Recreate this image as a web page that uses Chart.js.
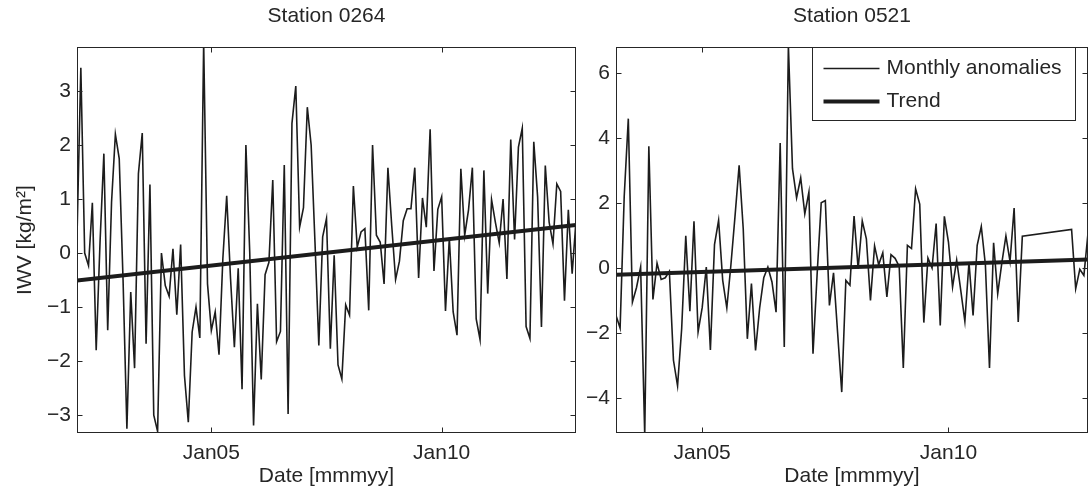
<!DOCTYPE html>
<html>
<head>
<meta charset="utf-8">
<script src="https://cdn.jsdelivr.net/npm/chart.js@4"></script>
<style>
  html, body { margin: 0; padding: 0; background: #fff; }
  #wrap { position: relative; width: 1089px; height: 493px; }
  canvas { position: absolute; top: 0; }
  #left { left: 0; }
  #right { left: 580px; }
</style>
</head>
<body>
<div id="wrap">
  <canvas id="left" width="580" height="493"></canvas>
  <canvas id="right" width="509" height="493"></canvas>
</div>
<script>
// Station 0264: monthly IWV anomalies, Feb 2002 .. Dec 2012
const leftStart = [2002, 2];
const leftValues = [
  0.3, 3.43, 0.0, -0.23, 0.93, -1.8, 0.2, 1.84, -1.43, 0.94,
  2.2, 1.75, -0.5, -3.25, -0.72, -2.13, 1.47, 2.22, -1.68, 1.27,
  -3.0, -3.3, 0.0, -0.6, -0.8, 0.08, -1.14, 0.16, -2.27, -3.13,
  -1.46, -1.0, -1.57, 3.9, -0.57, -1.43, -1.09, -1.88, -0.1, 1.06,
  -0.47, -1.74, -0.28, -2.52, 2.0, 0.02, -3.19, -0.94, -2.34, -0.4,
  -0.17, 1.35, -1.64, -1.45, 1.63, -2.98, 2.4, 3.09, 0.48, 0.84,
  2.7, 2.0, 0.2, -1.71, 0.3, 0.64, -1.77, -0.04, -2.07, -2.33,
  -0.96, -1.15, 1.24, 0.11, 0.39, 0.45, -1.06, 2.0, 0.33, 0.2,
  -0.57, 1.58, 0.5, -0.49, -0.15, 0.6, 0.82, 0.82, 1.58, -0.46,
  1.02, 0.48, 2.29, -0.33, 0.81, 1.04, -1.07, 0.28, -1.09, -1.52,
  1.56, 0.33, 0.8, 1.58, -1.22, -1.6, 1.53, -0.75, 0.99, 0.57,
  0.19, 1.0, -0.48, 2.1, 0.25, 1.96, 2.31, -1.36, -1.58, 2.06,
  1.04, -1.37, 1.62, 0.57, 0.17, 1.28, 1.14, -0.88, 0.8, -0.38,
  0.6
];
const leftTrend = [-0.51, 0.52];
const leftYTicks = [-3, -2, -1, 0, 1, 2, 3];
const leftYRange = [-3.33, 3.81];

// Station 0521: monthly IWV anomalies, Apr 2003 .. Nov 2012 (gap in 2011/12)
const rightStart = [2003, 4];
const rightValues = [
  -1.46, -1.85, 2.2, 4.6, -1.05, -0.6, 0.03, -5.15, 3.75, -0.97,
  0.15, -0.35, -0.3, -0.1, -2.84, -3.63, -1.87, 0.99, -1.33, 1.44,
  -1.97, -1.22, 0.03, -2.52, 0.72, 1.47, -0.38, -1.23, 0.1, 1.6,
  3.16, 1.21, -2.18, -0.48, -2.54, -1.23, -0.3, 0.03, -0.43, -1.36,
  3.85, -2.43, 6.85, 3.06, 2.16, 2.78, 1.67, 2.34, -2.64, -0.2,
  2.01, 2.08, -1.15, -0.15, -2.0, -3.82, -0.38, -0.53, 1.6, -0.02,
  1.45, 0.9, -1.0, 0.68, 0.1, 0.47, -0.89, 0.41, 0.3, 0.05,
  -3.08, 0.7, 0.6, 2.44, 1.97, -1.68, 0.31, 0.0, 1.37, -1.77,
  1.59, 0.8, -0.59, 0.24, -0.69, -1.64, 0.18, -1.46, 0.7, 1.28,
  0.1, -3.08, 0.78, -0.79, 0.15, 0.99, 0.2, 1.85, -1.66, 0.98,
  null, null, null, null, null, null, null, null, null, null,
  null, 1.19, -0.64, -0.04, -0.23, 1.08
];
const rightTrend = [-0.21, 0.26];
const rightYTicks = [-4, -2, 0, 2, 4, 6];
const rightYRange = [-5.08, 6.8];

const xTickYears = [2005, 2010];
const xTickLabels = ['Jan05', 'Jan10'];
const seriesLabels = ['Monthly anomalies', 'Trend'];

const ink = '#1c1c1c';
Chart.defaults.font.family = "'Liberation Sans', Arial, sans-serif";
Chart.defaults.font.size = 21;
Chart.defaults.color = '#262626';

function toPoints(start, values) {
  const x0 = start[0] + (start[1] - 1) / 12;
  return values.map((v, i) => ({ x: x0 + i / 12, y: v }));
}

// box round the plot with inward tick marks, matlab style
const frame = {
  id: 'frame',
  afterDatasetsDraw(chart) {
    const { ctx, chartArea: a, scales: { x, y } } = chart;
    const l = Math.round(a.left) + 0.5, r = Math.round(a.right) - 0.5;
    const t = Math.round(a.top) + 0.5, b = Math.round(a.bottom) - 0.5;
    ctx.save();
    ctx.strokeStyle = '#262626';
    ctx.lineWidth = 1;
    ctx.strokeRect(l, t, r - l, b - t);
    ctx.beginPath();
    x.ticks.forEach(tk => {
      const px = Math.round(x.getPixelForValue(tk.value)) + 0.5;
      ctx.moveTo(px, b); ctx.lineTo(px, b - 5);
      ctx.moveTo(px, t); ctx.lineTo(px, t + 5);
    });
    y.ticks.forEach(tk => {
      const py = Math.round(y.getPixelForValue(tk.value)) + 0.5;
      ctx.moveTo(l, py); ctx.lineTo(l + 5, py);
      ctx.moveTo(r, py); ctx.lineTo(r - 5, py);
    });
    ctx.stroke();
    ctx.restore();
  }
};

// legend box drawn inside the top right corner of the plot
const boxLegend = {
  id: 'boxLegend',
  afterDraw(chart, args, opts) {
    if (!opts.show) return;
    const { ctx, chartArea: a } = chart;
    const bx = Math.round(a.right) - 275.5, by = Math.round(a.top) + 0.5;
    const bw = 263, bh = 73;
    ctx.save();
    ctx.fillStyle = '#fff';
    ctx.fillRect(bx, by, bw, bh);
    ctx.strokeStyle = '#262626';
    ctx.lineWidth = 1;
    ctx.strokeRect(bx, by, bw, bh);
    ctx.font = "21px 'Liberation Sans', Arial, sans-serif";
    ctx.textBaseline = 'middle';
    ctx.fillStyle = '#262626';
    chart.data.datasets.forEach((ds, i) => {
      const ly = by + 21 + i * 33;
      ctx.strokeStyle = ds.borderColor;
      ctx.lineWidth = ds.borderWidth;
      ctx.beginPath();
      ctx.moveTo(bx + 11, ly);
      ctx.lineTo(bx + 67, ly);
      ctx.stroke();
      ctx.fillText(ds.label, bx + 74, ly);
    });
    ctx.restore();
  }
};

function makeChart(id, title, start, values, trend, yTicks, yRange, yAxisWidth, showYTitle, showLegend, padRight) {
  const pts = toPoints(start, values);
  const xMin = pts[0].x, xMax = pts[pts.length - 1].x;
  return new Chart(document.getElementById(id), {
    type: 'line',
    data: {
      datasets: [{
        label: seriesLabels[0],
        data: pts,
        borderColor: ink,
        borderWidth: 1.6,
        pointRadius: 0,
        tension: 0,
        spanGaps: true,
        clip: 0
      }, {
        label: seriesLabels[1],
        data: [{ x: xMin, y: trend[0] }, { x: xMax, y: trend[1] }],
        borderColor: ink,
        borderWidth: 4,
        pointRadius: 0,
        tension: 0,
        clip: 0
      }]
    },
    options: {
      responsive: false,
      animation: false,
      devicePixelRatio: 1,
      layout: { padding: { left: 0, right: padRight, top: 0, bottom: 0 } },
      plugins: {
        legend: { display: false },
        tooltip: { enabled: false },
        title: {
          display: true,
          text: title,
          fullSize: false,
          font: { size: 21, weight: 'normal' },
          padding: { top: 4, bottom: 18 }
        },
        boxLegend: { show: showLegend }
      },
      scales: {
        x: {
          type: 'linear',
          min: xMin,
          max: xMax,
          grid: { display: false, drawTicks: false },
          border: { display: false },
          afterBuildTicks: s => { s.ticks = xTickYears.map(v => ({ value: v })); },
          afterFit: s => { s.height = 60; },
          ticks: {
            padding: 8,
            maxRotation: 0,
            callback: v => xTickLabels[xTickYears.indexOf(v)]
          },
          title: {
            display: true,
            text: 'Date [mmmyy]',
            font: { size: 21 },
            padding: { top: 0, bottom: 4 }
          }
        },
        y: {
          type: 'linear',
          min: yRange[0],
          max: yRange[1],
          grid: { display: false, drawTicks: false },
          border: { display: false },
          afterBuildTicks: s => { s.ticks = yTicks.map(v => ({ value: v })); },
          afterFit: s => { s.width = yAxisWidth; },
          ticks: {
            padding: 6,
            callback: v => String(v).replace('-', '\u2212')
          },
          title: {
            display: showYTitle,
            text: 'IWV [kg/m\u00b2]',
            font: { size: 21 },
            padding: { top: 13, bottom: 0 }
          }
        }
      }
    },
    plugins: [frame, boxLegend]
  });
}

makeChart('left', 'Station 0264', leftStart, leftValues, leftTrend, leftYTicks, leftYRange, 77, true, false, 4);
makeChart('right', 'Station 0521', rightStart, rightValues, rightTrend, rightYTicks, rightYRange, 36, false, true, 1);
</script>
</body>
</html>
